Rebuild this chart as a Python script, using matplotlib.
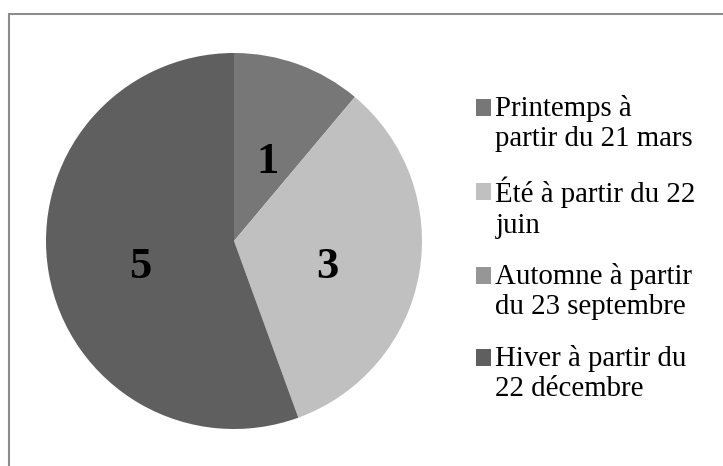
import matplotlib
matplotlib.use("Agg")
import matplotlib.pyplot as plt
from matplotlib.patches import Rectangle
import numpy as np

labels = ["Printemps à\npartir du 21 mars", "Été à partir du 22\njuin",
          "Automne à partir\ndu 23 septembre", "Hiver à partir du\n22 décembre"]
values = [1, 3, 0, 5]
colors = ["#777777", "#c0c0c0", "#969696", "#5f5f5f"]

W, H = 723, 466
fig = plt.figure(figsize=(W / 100, H / 100), dpi=100)
fig.patch.set_facecolor("white")

# chart frame (extends beyond right/bottom edges)
fig.patches.append(Rectangle((8.5 / W, -0.1), 1.2, (H - 13.5) / H + 0.1,
                             transform=fig.transFigure, fill=False,
                             edgecolor="#8c8c8c", linewidth=1.5))

cx, cy, r = 234, 241, 188
ax = fig.add_axes([(cx - r) / W, (H - cy - r) / H, 2 * r / W, 2 * r / H])
wedges, _ = ax.pie(values, colors=colors, startangle=90, counterclock=False,
                   radius=1, wedgeprops=dict(linewidth=0))
ax.set_xlim(-1, 1)
ax.set_ylim(-1, 1)
ax.set_aspect("equal")
ax.axis("off")

total = sum(values)
start = 90
label_r = [0.48, 0.51, 0.5, 0.51]
label_nudge = [-2, -3, 0, 3]
for v, lr, nd in zip(values, label_r, label_nudge):
    if v == 0:
        continue
    mid = start - 360 * v / total / 2 + nd
    start -= 360 * v / total
    ax.text(lr * np.cos(np.radians(mid)), lr * np.sin(np.radians(mid)), str(v),
            ha="center", va="center_baseline", fontsize=32, fontweight="bold",
            family="Liberation Serif", color="black")

fs = 20.8
ls = 1.22
leg = fig.legend(wedges, labels, loc="upper left",
                 bbox_to_anchor=(476 / W, 1 - 95 / H),
                 frameon=False, prop=dict(family="Liberation Serif", size=fs),
                 handlelength=0.52, handleheight=0.52, handletextpad=0.15,
                 labelspacing=0.84, borderpad=0, borderaxespad=0)
for t in leg.get_texts():
    t.set_linespacing(ls)
for p in leg.get_patches():
    p.set_y(p.get_y() + 11.4)

fig.savefig("out.png", dpi=100, facecolor="white")
